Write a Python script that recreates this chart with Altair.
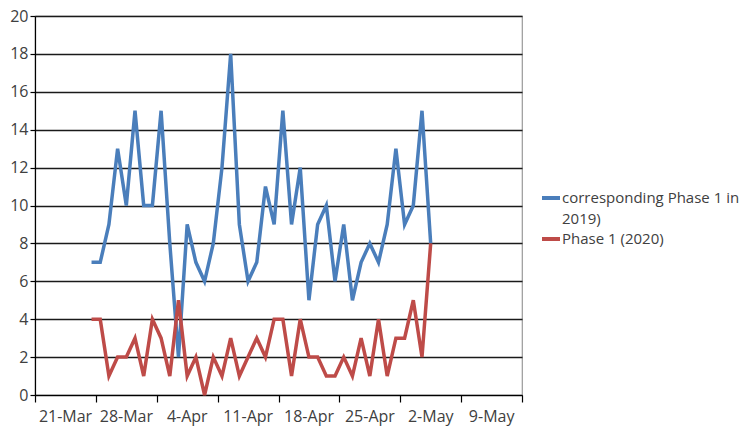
import altair as alt
import pandas as pd

dates = pd.date_range("2020-03-27", "2020-05-05", freq="D")
date_strings = [d.strftime("%Y-%m-%d") for d in dates]

series_2019 = [7, 7, 9, 13, 10, 15, 10, 10, 15, 8, 2, 9, 7, 6, 8, 12, 18, 9, 6, 7,
               11, 9, 15, 9, 12, 5, 9, 10, 6, 9, 5, 7, 8, 7, 9, 13, 9, 10, 15, 8]
series_2020 = [4, 4, 1, 2, 2, 3, 1, 4, 3, 1, 5, 1, 2, 0, 2, 1, 3, 1, 2, 3,
               2, 4, 4, 1, 4, 2, 2, 1, 1, 2, 1, 3, 1, 4, 1, 3, 3, 5, 2, 8]

label_2019 = "corresponding Phase 1 in\n2019)"
label_2020 = "Phase 1 (2020)"

tick_labels = ["2020-03-21", "2020-03-28", "2020-04-04", "2020-04-11", "2020-04-18",
               "2020-04-25", "2020-05-02", "2020-05-09", "2020-05-16"]

rows = []
for d, a, b in zip(date_strings, series_2019, series_2020):
    rows.append({"date": d + "T12:00:00", "value": a, "series": label_2019})
    rows.append({"date": d + "T12:00:00", "value": b, "series": label_2020})
df = pd.DataFrame(rows)

font = "Open Sans"
txt = "#404040"

chart = alt.Chart(df).mark_line(strokeWidth=3.5, strokeJoin="miter").encode(
    x=alt.X(
        "date:T",
        scale=alt.Scale(domain=[
            alt.DateTime(year=2020, month=3, date=21),
            alt.DateTime(year=2020, month=5, date=16),
        ]),
        axis=alt.Axis(
            title=None,
            values=[alt.DateTime(year=int(t[:4]), month=int(t[5:7]), date=int(t[8:10])) for t in tick_labels],
            format="%-d-%b",
            labelExpr="month(datum.value) == 4 && date(datum.value) == 16 ? '' : datum.label",
            labelOffset=30,
            grid=False,
            domainColor="#000000",
            domainWidth=1.2,
            tickColor="#000000",
            tickSize=7,
            tickWidth=1.2,
            labelPadding=6,
            labelFont=font,
            labelFontSize=16,
            labelColor=txt,
            labelAlign="center",
            labelFlush=False,
            labelOverlap=False,
        ),
    ),
    y=alt.Y(
        "value:Q",
        scale=alt.Scale(domain=[0, 20]),
        axis=alt.Axis(
            title=None,
            values=list(range(0, 21, 2)),
            gridColor="#1a1a1a",
            gridWidth=1.4,
            domainColor="#000000",
            domainWidth=1.2,
            tickColor="#000000",
            tickSize=5,
            tickWidth=1.2,
            labelPadding=2,
            labelFont=font,
            labelFontSize=16,
            labelColor=txt,
        ),
    ),
    color=alt.Color(
        "series:N",
        scale=alt.Scale(domain=[label_2019, label_2020], range=["#4A7EBB", "#BE4B48"]),
        legend=alt.Legend(
            title=None,
            orient="none",
            legendX=505,
            legendY=171,
            symbolType="stroke",
            symbolSize=324,
            symbolStrokeWidth=4,
            labelExpr="split(datum.label, '\\n')",
            labelFont=font,
            labelFontSize=15,
            labelColor=txt,
            labelOffset=0,
            labelLimit=300,
            rowPadding=1,
            padding=0,
        ),
    ),
).properties(
    width=487,
    height=379,
    padding={"top": 8, "left": 27, "right": 219, "bottom": 34},
    autosize=alt.AutoSizeParams(type="none"),
).configure(
    style={"guide-label": {"lineHeight": 21}}
).configure_view(
    stroke="#9a9a9a",
    strokeWidth=1.2,
)

chart.save("out.html", embed_options={"renderer": "svg", "actions": False})
